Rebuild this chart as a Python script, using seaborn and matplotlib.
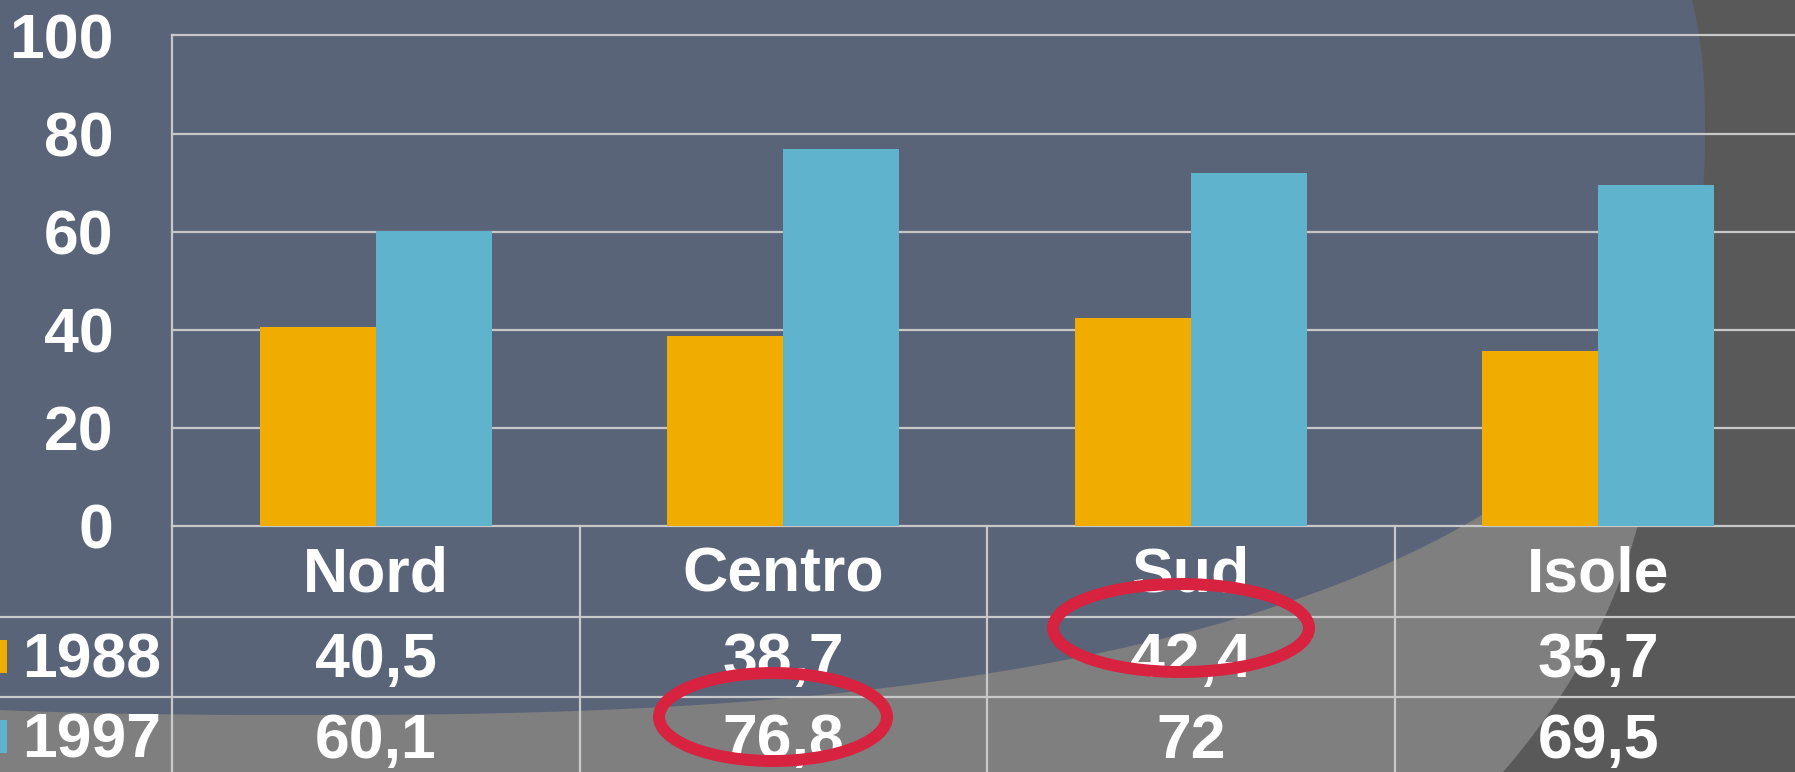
import numpy as np
import pandas as pd
import seaborn as sns
import matplotlib.pyplot as plt
import matplotlib.transforms as mtransforms
from matplotlib.patches import Ellipse, Polygon, Rectangle
from matplotlib.lines import Line2D

# dati
regioni = ['Nord', 'Centro', 'Sud', 'Isole']
anni = ['1988', '1997']
val_1988 = [40.5, 38.7, 42.4, 35.7]
val_1997 = [60.1, 76.8, 72, 69.5]
etichette_1988 = ['40,5', '38,7', '42,4', '35,7']
etichette_1997 = ['60,1', '76,8', '72', '69,5']
yticks = [0, 20, 40, 60, 80, 100]

colori = ['#F0AD00', '#5FB3CD']
GRIGIO = '#C8C8C8'

plt.rcParams['font.family'] = ['Liberation Sans', 'DejaVu Sans']
plt.rcParams['font.weight'] = 'bold'

W, H = 1795, 772
fig = plt.figure(figsize=(W / 100, H / 100), dpi=100)
fig.patch.set_facecolor('#595959')


def fx(x):
    return x / W


def fy(y):
    return 1 - y / H


# sfondo: forme del tema
fig.add_artist(Ellipse((fx(300), fy(400)), 2 * 1354 / W, 2 * 811 / H,
                       transform=fig.transFigure, facecolor='#7F7F7F',
                       edgecolor='none', zorder=-3))
t = np.linspace(0, 2 * np.pi, 800)
n = 2.5
c, s = np.cos(t), np.sin(t)
px = 300 + 1405 * np.sign(c) * np.abs(c) ** (2 / n)
py = 130 + 585 * np.sign(s) * np.abs(s) ** (2 / n)
fig.add_artist(Polygon(np.column_stack([px / W, 1 - py / H]), closed=True,
                       transform=fig.transFigure, facecolor='#5A6478',
                       edgecolor='none', zorder=-2))

ax = fig.add_axes([172 / W, (H - 525.5) / H, 1630 / W, 490 / H])
ax.set_facecolor('none')

df = pd.DataFrame({
    'regione': regioni * 2,
    'anno': [anni[0]] * 4 + [anni[1]] * 4,
    'valore': val_1988 + val_1997,
})
sns.barplot(data=df, x='regione', y='valore', hue='anno', palette=colori,
            width=0.57, saturation=1, legend=False, ax=ax, linewidth=0)

ax.set_xlim(-0.5, 3.5)
ax.set_ylim(0, 100)
ax.set_yticks(yticks)
ax.set_axisbelow(True)
ax.yaxis.grid(True, color=GRIGIO, lw=1.6)
ax.xaxis.grid(False)
for gl in ax.get_ygridlines():
    gl.set_clip_on(False)
ax.set_xticks([])
ax.set_xlabel('')
ax.set_ylabel('')
for side in ['top', 'right', 'bottom']:
    ax.spines[side].set_visible(False)
ax.spines['left'].set_color(GRIGIO)
ax.spines['left'].set_linewidth(1.6)
ax.tick_params(axis='y', length=0, pad=42, labelsize=45, labelcolor='white')

# tabella dati sotto il grafico
trans = mtransforms.blended_transform_factory(ax.transData, ax.transAxes)


def ay(y):
    return (525.5 - y) / 490


testo = dict(transform=trans, ha='center', va='baseline', color='white',
             fontsize=45, fontweight='bold')
for i, r in enumerate(regioni):
    ax.text(i, ay(592), r, **testo)
    ax.text(i, ay(677), etichette_1988[i], **testo)
    ax.text(i, ay(758), etichette_1997[i], **testo)

for xb in [-0.5, 0.5, 1.5, 2.5, 3.5]:
    ax.plot([xb, xb], [ay(775), 0], transform=trans, color=GRIGIO, lw=1.6,
            clip_on=False)
for yl in [617, 697]:
    fig.add_artist(Line2D([0, 1], [fy(yl), fy(yl)], transform=fig.transFigure,
                          color=GRIGIO, lw=1.6))

for anno, col, yb, ytop in [(anni[0], colori[0], 677, 640), (anni[1], colori[1], 758, 720)]:
    fig.add_artist(Rectangle((fx(-26), fy(ytop + 33)), 33 / W, 33 / H,
                             transform=fig.transFigure, facecolor=col,
                             edgecolor='none'))
    fig.text(fx(22), fy(yb), anno, ha='left', va='baseline', color='white',
             fontsize=45, fontweight='bold')

# cerchi rossi
for cx, cy, w, h in [(1181, 628, 256, 88), (773, 717, 228, 88)]:
    fig.add_artist(Ellipse((fx(cx), fy(cy)), w / W, h / H,
                           transform=fig.transFigure, facecolor='none',
                           edgecolor='#D7233F', lw=8.6, zorder=5))

fig.savefig('out.png', dpi=100, facecolor=fig.get_facecolor())
